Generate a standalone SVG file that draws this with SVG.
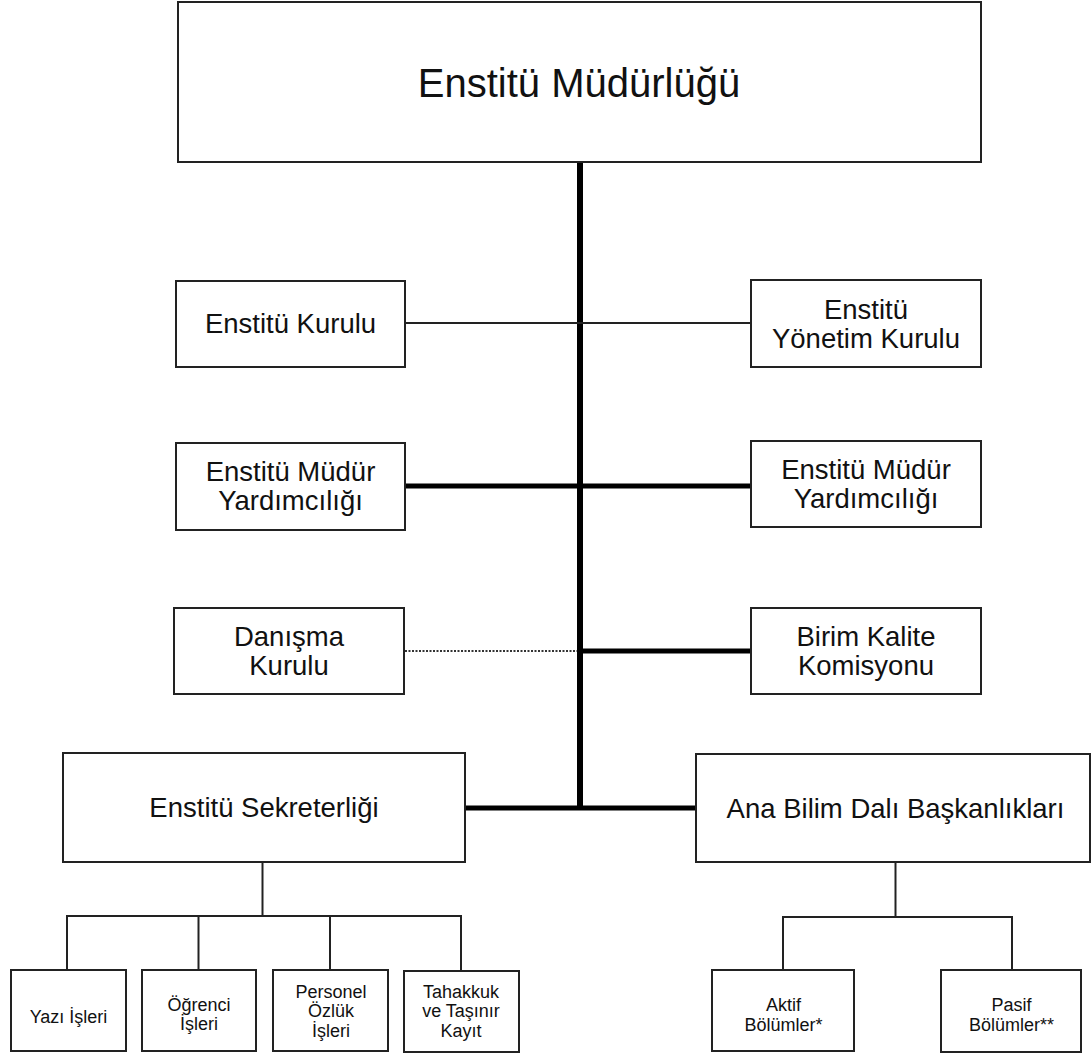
<svg xmlns="http://www.w3.org/2000/svg" width="1092" height="1055" viewBox="0 0 1092 1055">
<style>
.box{fill:#fff;stroke:#222;stroke-width:2}
.t{font-family:"Liberation Sans",Arial,sans-serif;fill:#111;text-anchor:middle}
.xl{font-size:40px}
.md{font-size:27.5px}
.sm{font-size:18px}
.thick{stroke:#000;stroke-width:5;fill:none}
.trunk{stroke:#000;stroke-width:6;fill:none}
.thin{stroke:#222;stroke-width:2;fill:none}
.dot{stroke:#333;stroke-width:2;stroke-dasharray:2 1.5;fill:none}
</style>
<rect width="1092" height="1055" fill="#fff"/>
<g id="connectors">
<line class="trunk" x1="580" y1="162" x2="580" y2="810"/>
<line class="thin" x1="405" y1="323" x2="751" y2="323"/>
<line class="thick" x1="405" y1="486" x2="751" y2="486"/>
<line class="dot" x1="405" y1="651" x2="577" y2="651"/>
<line class="thick" x1="580" y1="651" x2="751" y2="651"/>
<line class="thick" x1="465" y1="808" x2="696" y2="808"/>
<polyline class="thin" points="262.5,862 262.5,916"/>
<polyline class="thin" points="67,970 67,916 461,916 461,971"/>
<line class="thin" x1="198.5" y1="916" x2="198.5" y2="970"/>
<line class="thin" x1="330" y1="916" x2="330" y2="970"/>
<polyline class="thin" points="895.5,862 895.5,917"/>
<polyline class="thin" points="783,970 783,917 1012,917 1012,970"/>
</g>
<g id="n-mudurluk">
<rect class="box" x="178" y="2" width="803" height="160"/>
<text class="t xl" x="579" y="97">Enstitü Müdürlüğü</text>
</g>
<g id="n-kurul">
<rect class="box" x="176" y="281" width="229" height="86"/>
<text class="t md" x="290.5" y="333">Enstitü Kurulu</text>
</g>
<g id="n-yonetim">
<rect class="box" x="751" y="280" width="230" height="87"/>
<text class="t md" x="866" y="319">Enstitü</text>
<text class="t md" x="866" y="348">Yönetim Kurulu</text>
</g>
<g id="n-myrd-left">
<rect class="box" x="176" y="443" width="229" height="87"/>
<text class="t md" x="290.5" y="481">Enstitü Müdür</text>
<text class="t md" x="290.5" y="510">Yardımcılığı</text>
</g>
<g id="n-myrd-right">
<rect class="box" x="751" y="441" width="230" height="86"/>
<text class="t md" x="866" y="479">Enstitü Müdür</text>
<text class="t md" x="866" y="508">Yardımcılığı</text>
</g>
<g id="n-danisma">
<rect class="box" x="174" y="608" width="230" height="86"/>
<text class="t md" x="289" y="646">Danışma</text>
<text class="t md" x="289" y="675">Kurulu</text>
</g>
<g id="n-kalite">
<rect class="box" x="751" y="608" width="230" height="86"/>
<text class="t md" x="866" y="646">Birim Kalite</text>
<text class="t md" x="866" y="675">Komisyonu</text>
</g>
<g id="n-sekreterlik">
<rect class="box" x="63" y="753" width="402" height="109"/>
<text class="t md" x="264" y="817">Enstitü Sekreterliği</text>
</g>
<g id="n-anabilim">
<rect class="box" x="696" y="754" width="394" height="108"/>
<text class="t md" x="895.5" y="818">Ana Bilim Dalı Başkanlıkları</text>
</g>
<g id="n-yazi">
<rect class="box" x="11" y="970" width="115" height="81"/>
<text class="t sm" x="68.5" y="1023">Yazı İşleri</text>
</g>
<g id="n-ogrenci">
<rect class="box" x="142" y="970" width="114" height="81"/>
<text class="t sm" x="199" y="1010.5">Öğrenci</text>
<text class="t sm" x="199" y="1030">İşleri</text>
</g>
<g id="n-personel">
<rect class="box" x="273" y="970" width="115" height="81"/>
<text class="t sm" x="331" y="997.5">Personel</text>
<text class="t sm" x="331" y="1017">Özlük</text>
<text class="t sm" x="331" y="1036.5">İşleri</text>
</g>
<g id="n-tahakkuk">
<rect class="box" x="404" y="971" width="115" height="81"/>
<text class="t sm" x="461" y="997.5">Tahakkuk</text>
<text class="t sm" x="461" y="1017">ve Taşınır</text>
<text class="t sm" x="461" y="1036.5">Kayıt</text>
</g>
<g id="n-aktif">
<rect class="box" x="712" y="970" width="142" height="81"/>
<text class="t sm" x="783.5" y="1011">Aktif</text>
<text class="t sm" x="783.5" y="1030.5">Bölümler*</text>
</g>
<g id="n-pasif">
<rect class="box" x="941" y="970" width="140" height="82"/>
<text class="t sm" x="1011.5" y="1011">Pasif</text>
<text class="t sm" x="1011.5" y="1030.5">Bölümler**</text>
</g>
</svg>
